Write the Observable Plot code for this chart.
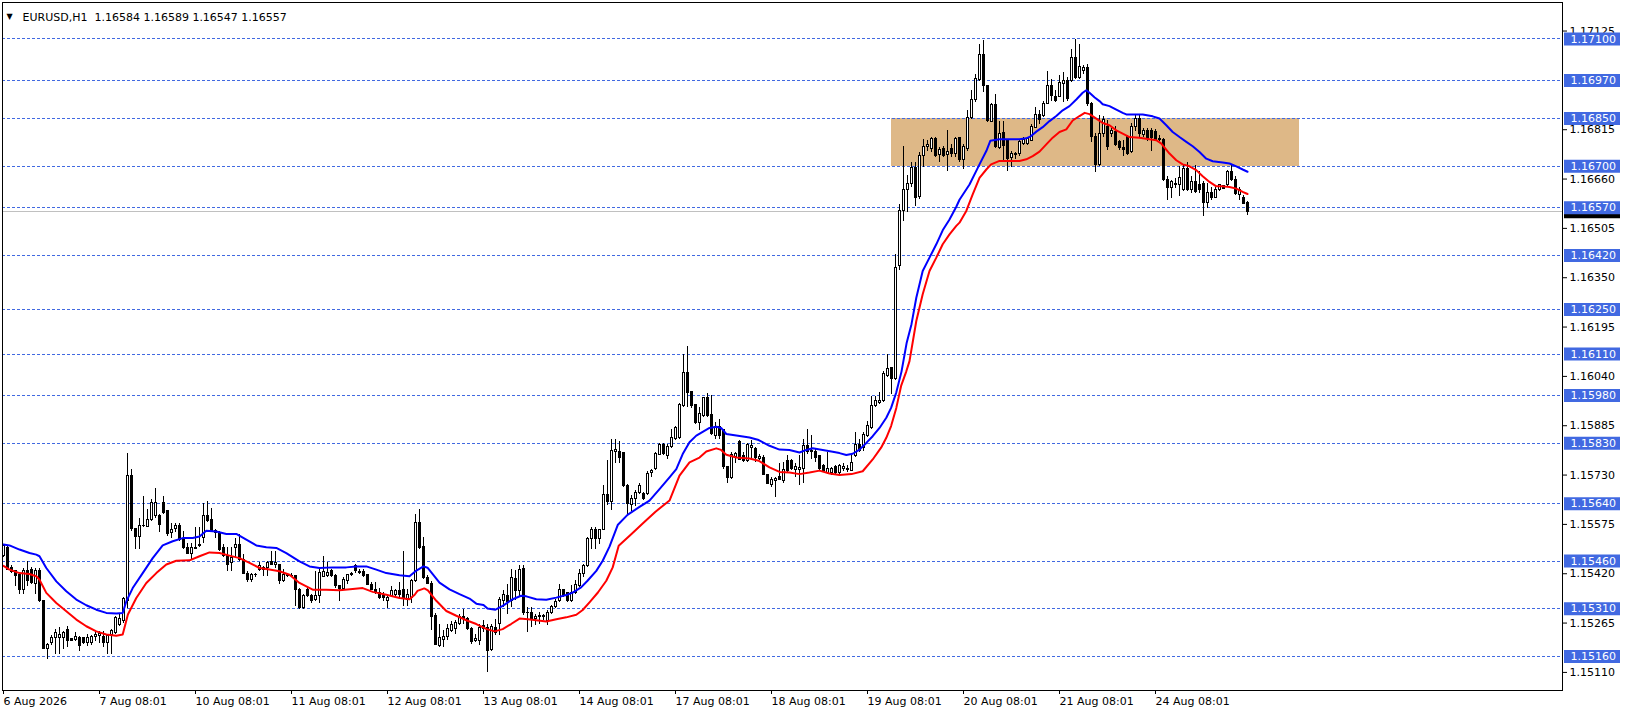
<!DOCTYPE html>
<html><head><meta charset="utf-8">
<script src="https://cdn.jsdelivr.net/npm/d3@7"></script>
<script src="https://cdn.jsdelivr.net/npm/@observablehq/plot@0.6"></script>
<style>html,body{margin:0;padding:0;background:#fff;} #chart svg{display:block}</style>
</head><body><div id="chart"></div>
<script>
// ---------- DATA ----------
const symbol = "EURUSD,H1";

const opens = [
1.15475,1.15501,1.15438,1.15428,1.15417,1.15370,1.15428,1.15433,1.15388,1.15430,
1.15333,1.15182,1.15202,1.15218,1.15218,1.15218,1.15244,1.15216,1.15212,1.15218,
1.15218,1.15202,1.15202,1.15220,1.15223,1.15222,1.15202,1.15228,1.15234,1.15260,
1.15270,1.15333,1.15726,1.15559,1.15537,1.15569,1.15567,1.15590,1.15600,1.15602,
1.15642,1.15616,1.15548,1.15560,1.15571,1.15527,1.15501,1.15482,1.15501,1.15506,
1.15532,1.15600,1.15590,1.15553,1.15548,1.15501,1.15475,1.15454,1.15501,1.15511,
1.15464,1.15419,1.15401,1.15417,1.15433,1.15438,1.15438,1.15457,1.15449,1.15449,
1.15396,1.15417,1.15412,1.15412,1.15370,1.15312,1.15370,1.15349,1.15339,1.15349,
1.15410,1.15412,1.15428,1.15412,1.15380,1.15373,1.15396,1.15415,1.15443,1.15425,
1.15425,1.15417,1.15386,1.15370,1.15360,1.15349,1.15333,1.15349,1.15354,1.15365,
1.15370,1.15339,1.15345,1.15396,1.15580,1.15504,1.15408,1.15389,1.15288,1.15194,
1.15213,1.15220,1.15241,1.15246,1.15262,1.15283,1.15277,1.15246,1.15209,1.15209,
1.15256,1.15251,1.15180,1.15251,1.15262,1.15335,1.15350,1.15335,1.15403,1.15366,
1.15434,1.15298,1.15298,1.15277,1.15287,1.15283,1.15272,1.15296,1.15317,1.15335,
1.15368,1.15358,1.15333,1.15361,1.15382,1.15419,1.15443,1.15529,1.15557,1.15529,
1.15558,1.15667,1.15644,1.15804,1.15802,1.15798,1.15696,1.15635,1.15655,1.15675,
1.15670,1.15670,1.15735,1.15749,1.15794,1.15825,1.15791,1.15817,1.15843,1.15846,
1.15948,1.16052,1.15990,1.15950,1.15895,1.15916,1.15971,1.15918,1.15854,1.15880,
1.15871,1.15754,1.15720,1.15786,1.15835,1.15791,1.15775,1.15815,1.15812,1.15780,
1.15783,1.15731,1.15700,1.15712,1.15723,1.15712,1.15775,1.15775,1.15747,1.15747,
1.15749,1.15822,1.15801,1.15801,1.15791,1.15759,1.15735,1.15735,1.15754,1.15738,
1.15748,1.15750,1.15742,1.15789,1.15824,1.15816,1.15852,1.15878,1.15946,1.15957,
1.15962,1.16041,1.16065,1.16031,1.16387,1.16560,1.16625,1.16643,1.16694,1.16605,
1.16731,1.16762,1.16753,1.16785,1.16735,1.16753,1.16735,1.16753,1.16738,1.16788,
1.16719,1.16753,1.16851,1.16907,1.16971,1.17050,1.16952,1.16840,1.16893,1.16759,
1.16806,1.16780,1.16725,1.16736,1.16738,1.16769,1.16769,1.16780,1.16821,1.16861,
1.16858,1.16897,1.16952,1.16918,1.16918,1.16958,1.16968,1.16968,1.17041,1.16978,
1.17001,1.17008,1.16897,1.16792,1.16703,1.16803,1.16824,1.16803,1.16808,1.16777,
1.16756,1.16792,1.16745,1.16824,1.16850,1.16798,1.16810,1.16810,1.16808,1.16782,
1.16784,1.16658,1.16633,1.16641,1.16641,1.16625,1.16693,1.16627,1.16651,1.16641,
1.16646,1.16585,1.16616,1.16602,1.16627,1.16637,1.16641,1.16683,1.16656,1.16609,1.16599,1.16584];

const highs = [
1.15511,1.15505,1.15445,1.15430,1.15420,1.15435,1.15459,1.15440,1.15435,1.15435,
1.15335,1.15200,1.15225,1.15244,1.15250,1.15239,1.15255,1.15218,1.15234,1.15222,
1.15220,1.15228,1.15225,1.15241,1.15239,1.15239,1.15228,1.15244,1.15285,1.15292,
1.15345,1.15799,1.15747,1.15559,1.15595,1.15663,1.15621,1.15653,1.15689,1.15605,
1.15663,1.15616,1.15579,1.15579,1.15579,1.15553,1.15516,1.15516,1.15564,1.15564,
1.15642,1.15647,1.15626,1.15559,1.15553,1.15511,1.15501,1.15501,1.15532,1.15543,
1.15480,1.15428,1.15422,1.15422,1.15454,1.15443,1.15459,1.15490,1.15490,1.15449,
1.15433,1.15422,1.15422,1.15412,1.15375,1.15354,1.15380,1.15354,1.15428,1.15433,
1.15475,1.15454,1.15433,1.15417,1.15380,1.15407,1.15419,1.15425,1.15449,1.15433,
1.15433,1.15419,1.15391,1.15391,1.15375,1.15360,1.15349,1.15380,1.15370,1.15391,
1.15490,1.15370,1.15401,1.15607,1.15621,1.15534,1.15413,1.15395,1.15295,1.15262,
1.15241,1.15262,1.15269,1.15272,1.15293,1.15307,1.15283,1.15251,1.15230,1.15262,
1.15272,1.15262,1.15262,1.15277,1.15345,1.15366,1.15387,1.15434,1.15429,1.15445,
1.15447,1.15314,1.15314,1.15293,1.15298,1.15293,1.15303,1.15319,1.15340,1.15385,
1.15368,1.15358,1.15382,1.15398,1.15434,1.15450,1.15534,1.15565,1.15565,1.15560,
1.15696,1.15775,1.15843,1.15843,1.15835,1.15800,1.15700,1.15665,1.15680,1.15705,
1.15675,1.15740,1.15749,1.15801,1.15829,1.15830,1.15827,1.15874,1.15882,1.15955,
1.16110,1.16133,1.15990,1.15953,1.15943,1.15974,1.15987,1.15979,1.15895,1.15906,
1.15871,1.15754,1.15801,1.15801,1.15840,1.15801,1.15829,1.15838,1.15817,1.15796,
1.15791,1.15733,1.15723,1.15723,1.15765,1.15770,1.15791,1.15778,1.15765,1.15791,
1.15843,1.15874,1.15854,1.15812,1.15791,1.15764,1.15801,1.15754,1.15759,1.15764,
1.15765,1.15760,1.15795,1.15863,1.15842,1.15863,1.15899,1.15978,1.15978,1.15990,
1.16056,1.16109,1.16067,1.16423,1.16581,1.16761,1.16670,1.16711,1.16711,1.16743,
1.16785,1.16780,1.16790,1.16792,1.16758,1.16761,1.16811,1.16769,1.16792,1.16792,
1.16769,1.16874,1.16937,1.16989,1.17083,1.17094,1.16952,1.16897,1.16926,1.16842,
1.16842,1.16780,1.16748,1.16743,1.16785,1.16790,1.16792,1.16832,1.16886,1.16874,
1.16903,1.16997,1.16973,1.16937,1.16984,1.16994,1.16978,1.17067,1.17099,1.17083,
1.17018,1.17020,1.16900,1.16803,1.16861,1.16855,1.16845,1.16819,1.16824,1.16782,
1.16782,1.16798,1.16834,1.16861,1.16861,1.16819,1.16819,1.16819,1.16815,1.16798,
1.16787,1.16667,1.16656,1.16662,1.16698,1.16703,1.16711,1.16667,1.16703,1.16683,
1.16651,1.16646,1.16635,1.16635,1.16641,1.16640,1.16688,1.16703,1.16667,1.16635,1.16609,1.16589];

const lows = [
1.15470,1.15430,1.15420,1.15380,1.15355,1.15355,1.15380,1.15385,1.15354,1.15330,
1.15182,1.15150,1.15195,1.15166,1.15166,1.15182,1.15187,1.15208,1.15208,1.15176,
1.15198,1.15192,1.15195,1.15206,1.15202,1.15187,1.15166,1.15166,1.15230,1.15255,
1.15265,1.15312,1.15553,1.15496,1.15496,1.15564,1.15564,1.15585,1.15595,1.15548,
1.15605,1.15537,1.15532,1.15548,1.15522,1.15496,1.15480,1.15464,1.15496,1.15501,
1.15516,1.15580,1.15548,1.15532,1.15490,1.15470,1.15428,1.15428,1.15470,1.15459,
1.15417,1.15391,1.15391,1.15407,1.15428,1.15412,1.15412,1.15446,1.15438,1.15386,
1.15391,1.15407,1.15407,1.15318,1.15307,1.15307,1.15344,1.15328,1.15333,1.15328,
1.15407,1.15407,1.15407,1.15375,1.15333,1.15370,1.15386,1.15412,1.15422,1.15417,
1.15407,1.15384,1.15367,1.15354,1.15339,1.15333,1.15312,1.15344,1.15349,1.15339,
1.15318,1.15318,1.15328,1.15391,1.15495,1.15403,1.15385,1.15241,1.15193,1.15188,
1.15188,1.15209,1.15235,1.15230,1.15256,1.15262,1.15241,1.15199,1.15204,1.15194,
1.15235,1.15110,1.15175,1.15225,1.15225,1.15314,1.15293,1.15314,1.15335,1.15345,
1.15288,1.15235,1.15251,1.15256,1.15262,1.15272,1.15256,1.15291,1.15312,1.15330,
1.15345,1.15330,1.15330,1.15356,1.15377,1.15408,1.15440,1.15497,1.15497,1.15513,
1.15555,1.15633,1.15618,1.15765,1.15765,1.15691,1.15605,1.15615,1.15630,1.15670,
1.15650,1.15665,1.15723,1.15744,1.15791,1.15791,1.15780,1.15812,1.15838,1.15843,
1.15943,1.15943,1.15940,1.15890,1.15869,1.15910,1.15911,1.15854,1.15843,1.15843,
1.15749,1.15702,1.15717,1.15765,1.15775,1.15770,1.15770,1.15775,1.15770,1.15775,
1.15728,1.15700,1.15691,1.15660,1.15712,1.15702,1.15739,1.15744,1.15723,1.15696,
1.15702,1.15796,1.15780,1.15770,1.15744,1.15739,1.15733,1.15730,1.15733,1.15733,
1.15740,1.15738,1.15740,1.15784,1.15800,1.15805,1.15847,1.15873,1.15941,1.15952,
1.15957,1.16036,1.15984,1.16028,1.16373,1.16528,1.16554,1.16633,1.16575,1.16596,
1.16696,1.16748,1.16743,1.16727,1.16712,1.16729,1.16685,1.16727,1.16727,1.16711,
1.16690,1.16748,1.16848,1.16900,1.16968,1.16931,1.16837,1.16837,1.16757,1.16753,
1.16717,1.16685,1.16696,1.16722,1.16732,1.16764,1.16764,1.16778,1.16819,1.16832,
1.16853,1.16895,1.16905,1.16900,1.16915,1.16900,1.16905,1.16963,1.16973,1.16973,
1.16989,1.16889,1.16775,1.16680,1.16698,1.16792,1.16751,1.16792,1.16761,1.16751,
1.16730,1.16735,1.16740,1.16808,1.16792,1.16790,1.16777,1.16745,1.16777,1.16777,
1.16651,1.16594,1.16599,1.16630,1.16604,1.16620,1.16620,1.16614,1.16614,1.16614,
1.16541,1.16567,1.16594,1.16599,1.16620,1.16627,1.16635,1.16651,1.16609,1.16594,1.16581,1.16547];

const closes = [
1.15506,1.15433,1.15425,1.15412,1.15370,1.15428,1.15396,1.15391,1.15430,1.15333,
1.15185,1.15197,1.15218,1.15234,1.15228,1.15234,1.15210,1.15210,1.15220,1.15192,
1.15202,1.15218,1.15222,1.15226,1.15230,1.15202,1.15223,1.15239,1.15281,1.15279,
1.15342,1.15726,1.15559,1.15537,1.15569,1.15571,1.15590,1.15642,1.15642,1.15574,
1.15611,1.15545,1.15558,1.15571,1.15527,1.15501,1.15482,1.15501,1.15499,1.15511,
1.15600,1.15585,1.15553,1.15548,1.15496,1.15475,1.15449,1.15470,1.15511,1.15464,
1.15419,1.15401,1.15417,1.15415,1.15443,1.15433,1.15454,1.15446,1.15454,1.15396,
1.15417,1.15412,1.15413,1.15370,1.15312,1.15349,1.15349,1.15335,1.15351,1.15422,
1.15425,1.15422,1.15412,1.15380,1.15373,1.15401,1.15417,1.15419,1.15428,1.15422,
1.15412,1.15386,1.15370,1.15360,1.15344,1.15344,1.15344,1.15365,1.15365,1.15354,
1.15344,1.15354,1.15396,1.15579,1.15502,1.15408,1.15389,1.15283,1.15196,1.15218,
1.15222,1.15246,1.15260,1.15264,1.15283,1.15278,1.15246,1.15204,1.15215,1.15251,
1.15246,1.15178,1.15253,1.15235,1.15337,1.15354,1.15330,1.15408,1.15366,1.15432,
1.15298,1.15296,1.15277,1.15285,1.15285,1.15288,1.15298,1.15316,1.15332,1.15369,
1.15350,1.15335,1.15361,1.15384,1.15419,1.15443,1.15529,1.15557,1.15529,1.15558,
1.15667,1.15644,1.15806,1.15808,1.15785,1.15696,1.15640,1.15655,1.15675,1.15696,
1.15655,1.15733,1.15744,1.15796,1.15825,1.15796,1.15817,1.15846,1.15878,1.15950,
1.16052,1.15987,1.15946,1.15895,1.15922,1.15971,1.15916,1.15859,1.15880,1.15854,
1.15754,1.15720,1.15793,1.15796,1.15777,1.15773,1.15825,1.15820,1.15784,1.15788,
1.15731,1.15702,1.15714,1.15718,1.15714,1.15746,1.15744,1.15749,1.15754,1.15751,
1.15822,1.15801,1.15806,1.15785,1.15749,1.15744,1.15749,1.15749,1.15738,1.15759,
1.15755,1.15745,1.15769,1.15826,1.15807,1.15857,1.15884,1.15946,1.15962,1.15962,
1.16046,1.16062,1.16031,1.16382,1.16560,1.16625,1.16643,1.16694,1.16602,1.16731,
1.16761,1.16766,1.16785,1.16732,1.16751,1.16732,1.16745,1.16738,1.16785,1.16719,
1.16761,1.16851,1.16907,1.16973,1.17050,1.16952,1.16842,1.16893,1.16761,1.16803,
1.16764,1.16722,1.16738,1.16738,1.16776,1.16782,1.16785,1.16823,1.16861,1.16845,
1.16897,1.16952,1.16921,1.16905,1.16963,1.16968,1.16910,1.17041,1.16978,1.17012,
1.17008,1.16897,1.16792,1.16703,1.16803,1.16845,1.16761,1.16811,1.16766,1.16756,
1.16751,1.16740,1.16824,1.16850,1.16803,1.16810,1.16787,1.16789,1.16782,1.16787,
1.16658,1.16633,1.16651,1.16646,1.16662,1.16693,1.16625,1.16651,1.16620,1.16625,
1.16585,1.16616,1.16599,1.16627,1.16641,1.16630,1.16683,1.16656,1.16614,1.16627,1.16583,1.16557];

// moving-average lines: [bar index, price]
const blueLine = [
[0,1.15512],[1.5,1.15509],[4,1.15496],[6.5,1.15485],[8.2,1.15480],[9,1.15475],[10.7,1.15438],[13.2,1.15396],[15.7,1.15365],[18.2,1.15339],
[20.7,1.15321],[23.2,1.15307],[25.7,1.15297],[28.2,1.15295],[29.8,1.15297],[30.7,1.15333],[32.3,1.15375],[34.8,1.15422],[37.3,1.15469],[39.8,1.15509],
[42.3,1.15522],[44.8,1.15532],[47.3,1.15532],[49,1.15537],[50.7,1.15555],[53.2,1.15553],[55.7,1.15545],[58.2,1.15545],[60.7,1.15527],[63.2,1.15509],
[65.7,1.15503],[68.2,1.15501],[70.7,1.15485],[74,1.15459],[76.5,1.15443],[79,1.15438],[82.3,1.15440],[85.7,1.15440],[88.2,1.15443],[90.7,1.15443],
[93.2,1.15433],[95.7,1.15422],[99,1.15415],[101.5,1.15412],[103,1.15428],[105,1.15443],[106,1.15439],[107.3,1.15419],[109,1.15392],[111.5,1.15371],
[114,1.15356],[116.5,1.15342],[118.2,1.15326],[120,1.15322],[121,1.15311],[123,1.15307],[124.8,1.15319],[127.3,1.15340],[129.4,1.15351],[130.7,1.15349],
[133.2,1.15340],[135.7,1.15338],[138.2,1.15345],[140.7,1.15353],[142.3,1.15361],[144.4,1.15377],[146,1.15398],[148.2,1.15429],[149.8,1.15461],[151.5,1.15505],
[153.6,1.15574],[156,1.15605],[159,1.15630],[161.5,1.15650],[164,1.15686],[166.5,1.15723],[168.2,1.15749],[169.8,1.15796],[171.5,1.15833],[173.2,1.15854],
[174.8,1.15866],[176.5,1.15878],[178.2,1.15882],[179.4,1.15878],[180.7,1.15859],[183.2,1.15854],[186.5,1.15848],[188.8,1.15840],[191.5,1.15822],[194,1.15810],
[196.5,1.15809],[199,1.15801],[200.7,1.15809],[202.3,1.15814],[204.8,1.15809],[207.3,1.15803],[209,1.15799],[210.7,1.15793],[212.3,1.15797],[214,1.15810],
[215.7,1.15831],[217.3,1.15852],[219,1.15878],[220.7,1.15910],[221.9,1.15941],[223.2,1.15990],[224.5,1.16055],[225.8,1.16146],[227,1.16204],[228.2,1.16287],
[229.8,1.16371],[231.5,1.16413],[233.2,1.16455],[234.8,1.16499],[236.5,1.16533],[238.2,1.16573],[239,1.16595],[241.5,1.16643],[244,1.16706],[245.7,1.16748],
[246.7,1.16780],[249,1.16785],[251.5,1.16785],[254,1.16785],[255.7,1.16788],[256.9,1.16795],[258.2,1.16809],[259.8,1.16823],[261.5,1.16842],[263.2,1.16858],
[264.8,1.16876],[266.5,1.16889],[268.2,1.16910],[269.8,1.16931],[270.7,1.16939],[271.5,1.16931],[272.8,1.16916],[274,1.16905],[274.8,1.16895],[276.5,1.16889],
[278.2,1.16878],[279.8,1.16868],[280.7,1.16863],[284.8,1.16863],[287.3,1.16857],[289,1.16850],[290.7,1.16829],[292.3,1.16808],[294,1.16792],[295.7,1.16777],
[297.3,1.16763],[299,1.16745],[300.7,1.16724],[302.3,1.16716],[304.8,1.16712],[306.5,1.16709],[308.2,1.16700],[309.8,1.16690],[311,1.16683]];

const redLine = [
[0,1.15445],[1.5,1.15433],[4,1.15422],[6.5,1.15419],[8.2,1.15412],[9,1.15401],[10.7,1.15360],[13.2,1.15328],[15.7,1.15302],[18.2,1.15276],
[20.7,1.15255],[23.2,1.15239],[25.7,1.15229],[28.2,1.15225],[29.8,1.15229],[31.1,1.15292],[33.2,1.15344],[35.7,1.15391],[38.2,1.15422],[40.7,1.15449],
[43.2,1.15461],[46.5,1.15462],[49,1.15475],[51.5,1.15487],[54,1.15485],[56.5,1.15477],[59,1.15469],[61.5,1.15454],[64,1.15438],[66.5,1.15433],
[69,1.15428],[71.5,1.15417],[74,1.15391],[77.3,1.15370],[80.7,1.15370],[84,1.15368],[87.3,1.15372],[89.8,1.15375],[92.3,1.15363],[95.7,1.15354],
[99,1.15344],[101.5,1.15340],[102.8,1.15354],[103.5,1.15366],[105.2,1.15374],[106.1,1.15368],[108.2,1.15335],[110.7,1.15303],[113.2,1.15288],[115.7,1.15274],
[118.2,1.15262],[120.8,1.15246],[122.8,1.15239],[124.8,1.15246],[126.9,1.15262],[129,1.15279],[131.1,1.15277],[133.2,1.15274],[135.7,1.15270],[138.2,1.15277],
[140.7,1.15283],[143.2,1.15291],[144.8,1.15306],[146.5,1.15330],[148.6,1.15361],[150.7,1.15398],[152.3,1.15440],[153.8,1.15508],[157,1.15545],[160,1.15580],
[163,1.15615],[166.5,1.15650],[169,1.15728],[171.5,1.15770],[174,1.15785],[175.7,1.15804],[178.2,1.15814],[179.4,1.15809],[180.7,1.15794],[183.2,1.15785],
[186.5,1.15782],[188.8,1.15775],[191.5,1.15754],[194,1.15740],[196.5,1.15738],[199,1.15733],[201.5,1.15738],[204,1.15744],[206.5,1.15735],[209,1.15730],
[212,1.15733],[214.8,1.15742],[217.3,1.15779],[219.4,1.15816],[220.7,1.15847],[221.9,1.15884],[223.2,1.15941],[224.4,1.16010],[225.7,1.16056],[226.5,1.16088],
[228.2,1.16214],[229.8,1.16298],[231.5,1.16371],[233.2,1.16413],[234.8,1.16455],[236.5,1.16486],[238.2,1.16513],[239,1.16523],[240.7,1.16560],[242.3,1.16612],
[244,1.16664],[245.7,1.16690],[246.9,1.16706],[249,1.16717],[251.5,1.16717],[254,1.16717],[255.7,1.16722],[257.3,1.16732],[259,1.16746],[260.7,1.16769],
[262.3,1.16790],[264,1.16808],[265.7,1.16816],[267.3,1.16844],[269,1.16858],[270.3,1.16868],[271.5,1.16864],[273.2,1.16850],[274.8,1.16836],[276.5,1.16829],
[278.2,1.16813],[279.8,1.16803],[281.5,1.16792],[284,1.16790],[286.5,1.16785],[288.2,1.16782],[289.4,1.16772],[291.5,1.16740],[293.2,1.16719],[294.8,1.16706],
[296.5,1.16700],[298.2,1.16688],[299.8,1.16669],[301.5,1.16651],[303.2,1.16637],[304.8,1.16637],[306.5,1.16635],[308.2,1.16630],[309.8,1.16620],[311,1.16613]];

// horizontal levels (dashed, blue labels)
const levels = [1.17100,1.16970,1.16850,1.16700,1.16570,1.16420,1.16250,1.16110,1.15980,1.15830,1.15640,1.15460,1.15310,1.15160];
// price-scale tick labels
const yTicks = [1.17125,1.16815,1.16660,1.16505,1.16350,1.16195,1.16040,1.15885,1.15730,1.15575,1.15420,1.15265,1.15110];
// time-axis ticks (bar index) and labels
const tickIdx = [0,24,48,72,96,120,144,168,192,216,240,264,288];
const tickLabels = ["6 Aug 2026","7 Aug 08:01","10 Aug 08:01","11 Aug 08:01","12 Aug 08:01","13 Aug 08:01","14 Aug 08:01","17 Aug 08:01","18 Aug 08:01","19 Aug 08:01","20 Aug 08:01","21 Aug 08:01","24 Aug 08:01"];
// supply zone rectangle
const zone = {start: 222, end: 324, low: 1.16700, high: 1.16850};

// ---------- BUILD ----------
const candles = opens.map((o, i) => ({i, open: o, high: highs[i], low: lows[i], close: closes[i]}));
const bull = candles.filter(d => d.close >= d.open);
const bear = candles.filter(d => d.close < d.open);
const last = candles[candles.length - 1];
const labelMap = new Map(tickIdx.map((t, k) => [t, tickLabels[k]]));
const f5 = d => d.toFixed(5);
const title = symbol + "\u00a0\u00a0" + [last.open, last.high, last.low, last.close].map(f5).join(" ");

const LEVEL = "#4169e1";
const boxX1 = 390.25, boxX2 = 404.25, labelX = 391.75;
const crisp = {shapeRendering: "crispEdges"};

const chart = Plot.plot({
  width: 1626, height: 714,
  marginLeft: 2, marginRight: 64, marginTop: 2, marginBottom: 24,
  x: {type: "linear", domain: [-0.25, 389.75]},
  y: {type: "linear", domain: [1.1505318, 1.1721467]},
  style: {fontFamily: "'DejaVu Sans', sans-serif", fontSize: "11px", background: "#fff", color: "#000"},
  marks: [
    Plot.rect([zone], {x1: "start", x2: "end", y1: "low", y2: "high", fill: "#deb887", ...crisp}),
    Plot.ruleY(levels, {stroke: LEVEL, strokeDasharray: "3,2", ...crisp}),
    Plot.ruleY([last.close], {stroke: "#c0c0c0", ...crisp}),
    Plot.ruleX(candles, {x: "i", y1: "low", y2: "high", stroke: "#000", ...crisp}),
    Plot.rect(bull, {x1: d => d.i - 0.25, x2: d => d.i + 0.25, y1: "open", y2: "close", fill: "#fff", stroke: "#000", ...crisp}),
    Plot.rect(bear, {x1: d => d.i - 0.25, x2: d => d.i + 0.25, y1: "open", y2: "close", fill: "#000", stroke: "#000", ...crisp}),
    Plot.line(blueLine, {x: d => d[0], y: d => d[1], stroke: "#0000ff", strokeWidth: 2}),
    Plot.line(redLine, {x: d => d[0], y: d => d[1], stroke: "#ff0000", strokeWidth: 2}),
    Plot.frame({stroke: "#000", ...crisp}),
    Plot.axisY({anchor: "right", ticks: yTicks, tickFormat: f5, tickSize: 4, tickPadding: 3, label: null}),
    Plot.axisX({anchor: "bottom", ticks: tickIdx, tickFormat: d => labelMap.get(d), tickSize: 4, tickPadding: 3, textAnchor: "start", label: null}),
    Plot.ruleY([last.close], {x1: () => boxX1, x2: () => boxX2, stroke: "#000", strokeWidth: 13}),
    Plot.ruleY(levels, {x1: () => boxX1, x2: () => boxX2, stroke: LEVEL, strokeWidth: 13}),
    Plot.text(levels, {x: () => labelX, y: d => d, text: f5, fill: "#fff", textAnchor: "start"}),
    Plot.text(["\u25BC"], {frameAnchor: "top-left", dx: 4, dy: 11, fontSize: 8, textAnchor: "start"}),
    Plot.text([title], {frameAnchor: "top-left", dx: 20, dy: 11, textAnchor: "start"})
  ]
});
document.getElementById("chart").appendChild(chart);
</script>
</body></html>
